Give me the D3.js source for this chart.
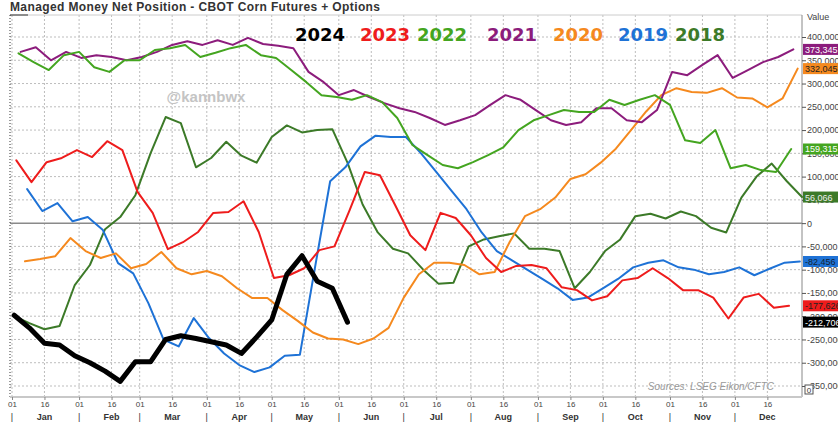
<!doctype html>
<html>
<head>
<meta charset="utf-8">
<script src="https://d3js.org/d3.v7.min.js"></script>
<style>
  body { margin: 0; background: #fff; }
  svg text { font-family: "Liberation Sans", Arial, sans-serif; }
</style>
</head>
<body>
<svg id="chart" width="838" height="425"></svg>
<script>
// managed money net position, thousands of contracts, one value per weekly report
const years = ["2024", "2023", "2022", "2021", "2020", "2019", "2018"];
const firstReport = {
  "2024": "2024-01-02", "2023": "2023-01-03", "2022": "2022-01-04", "2021": "2021-01-05",
  "2020": "2020-01-07", "2019": "2019-01-08", "2018": "2018-01-02"
};
const y2024 = [-198, -225, -258, -262, -285, -300, -318, -340, -298, -298, -250, -242, -248, -255, -262,
  -280, -245, -208, -110, -70, -125, -140, -212.706];
const y2023 = [135, 88, 131, 140, 157, 142, 176, 157, 67, 22, -56, -41, -19, 22, 24, 47, -19, -118, -112,
  -97, -58, -50, 28, 110, 103, 39, -26, -58, 22, 11, -26, -75, -105, -92, -90, -97, -138, -144, -166, -157,
  -123, -118, -97, -118, -144, -144, -160, -205, -160, -152, -182, -177.626];
const y2022 = [365, 346, 329, 361, 368, 335, 325, 350, 350, 372, 376, 383, 357, 366, 376, 383, 361, 355, 329,
  303, 275, 271, 265, 275, 260, 226, 168, 146, 125, 118, 131, 146, 163, 200, 221, 232, 243, 239, 239, 265,
  254, 265, 275, 254, 178, 172, 200, 118, 125, 114, 110, 159.315];
const y2021 = [368, 378, 350, 368, 355, 361, 357, 350, 357, 368, 383, 391, 383, 393, 383, 398, 385, 381, 376,
  325, 303, 275, 286, 271, 258, 247, 239, 226, 211, 221, 232, 254, 275, 265, 243, 221, 211, 217, 247, 247,
  221, 217, 243, 325, 318, 340, 361, 312, 329, 346, 357, 373.345];
const y2020 = [-82, -77, -71, -32, -60, -75, -65, -97, -88, -62, -97, -110, -103, -114, -140, -161, -161, -187,
  -210, -235, -248, -250, -260, -248, -225, -160, -110, -85, -85, -90, -110, -105, -40, 15, 30, 55, 95, 105,
  130, 160, 200, 240, 275, 290, 282, 280, 290, 270, 268, 249, 268, 332.045];
const y2019 = [73, 26, 43, 4, 13, -15, -86, -108, -172, -250, -265, -204, -247, -280, -305, -320, -310, -285,
  -283, -95, 90, 120, 165, 188, 185, 185, 150, 110, 70, 30, -20, -60, -80, -100, -120, -140, -165, -160,
  -140, -120, -95, -85, -80, -95, -100, -110, -105, -95, -112, -98, -85, -82.456];
const y2018 = [-200, -215, -228, -221, -133, -90, -13, 13, 60, 150, 228, 215, 120, 140, 175, 145, 130, 185,
  210, 195, 200, 202, 130, 40, -20, -55, -65, -100, -130, -128, -50, -35, -28, -22, -55, -55, -60, -140,
  -105, -60, -35, 15, 20, 10, 25, 15, -10, -20, 55, 100, 128, 90, 56.066];
const valuesByYear = { "2024": y2024, "2023": y2023, "2022": y2022, "2021": y2021, "2020": y2020, "2019": y2019, "2018": y2018 };
const colors = {
  "2024": "#000000", "2023": "#ee1c1c", "2022": "#44a520", "2021": "#8c1c7c",
  "2020": "#f5891e", "2019": "#1e72d6", "2018": "#3c7a28"
};
const boxText = { "2024": "#fff", "2023": "#222", "2022": "#fff", "2021": "#fff", "2020": "#222", "2019": "#123", "2018": "#eee" };
const yTicks = d3.range(-350, 401, 50);
const monthNames = ["Jan", "Feb", "Mar", "Apr", "May", "Jun", "Jul", "Aug", "Sep", "Oct", "Nov", "Dec"];

const svg = d3.select("#chart");
const plotL = 10, plotR = 802, plotT = 15, plotB = 397;
const fmt = v => d3.format(",")(Math.round(v * 1000)).replace("\u2212", "-");

// every year is laid over one common calendar
const x = d3.scaleTime().domain([new Date(2021, 0, 1), new Date(2022, 0, 1)]).range([12, 802]);
const y = d3.scaleLinear().domain([-350, 400]).range([386, 37]);
const parse = d3.timeParse("%Y-%m-%d");
function commonDate(start, i) {
  const d = parse(start);
  const doy = d3.timeDay.count(d3.timeYear(d), d) + 7 * i;
  return d3.timeDay.offset(new Date(2021, 0, 1), doy);
}

svg.append("text").attr("x", 10).attr("y", 11)
  .attr("font-size", 12).attr("font-weight", "bold").attr("fill", "#333")
  .attr("textLength", 370)
  .text("Managed Money Net Position - CBOT Corn Futures + Options");

const xTicks = [];
d3.range(12).forEach(function(m) { xTicks.push(new Date(2021, m, 1)); xTicks.push(new Date(2021, m, 16)); });

// grid
svg.append("g").selectAll("line").data(xTicks).enter().append("line")
  .attr("x1", d => x(d)).attr("x2", d => x(d)).attr("y1", plotT).attr("y2", plotB)
  .attr("stroke", "#bdbdbd").attr("stroke-dasharray", "2,2");
svg.append("g").selectAll("line").data(yTicks.filter(d => d != 0)).enter().append("line")
  .attr("x1", plotL).attr("x2", plotR).attr("y1", d => y(d)).attr("y2", d => y(d))
  .attr("stroke", "#bdbdbd").attr("stroke-dasharray", "2,2");
svg.append("line").attr("x1", plotL).attr("x2", plotR).attr("y1", y(0)).attr("y2", y(0))
  .attr("stroke", "#8a8a8a").attr("stroke-width", 1.5);

// frame
svg.append("line").attr("x1", plotL).attr("x2", plotR).attr("y1", plotT).attr("y2", plotT).attr("stroke", "#ccc");
svg.append("line").attr("x1", plotL).attr("x2", 28).attr("y1", plotT).attr("y2", plotT).attr("stroke", "#333");
svg.append("line").attr("x1", plotL).attr("x2", plotL).attr("y1", plotT).attr("y2", plotB)
  .attr("stroke", "#333").attr("stroke-dasharray", "1,2");
svg.append("line").attr("x1", plotR).attr("x2", plotR).attr("y1", plotT).attr("y2", plotB).attr("stroke", "#888");
svg.append("line").attr("x1", plotL).attr("x2", plotR).attr("y1", plotB).attr("y2", plotB)
  .attr("stroke", "#c8c8c8").attr("stroke-width", 2);

svg.append("text").attr("x", 206).attr("y", 102).attr("text-anchor", "middle")
  .attr("font-size", 15).attr("font-weight", "bold").attr("fill", "#c4c4c4").text("@kannbwx");

svg.append("text").attr("x", 774).attr("y", 390).attr("text-anchor", "end")
  .attr("font-size", 10).attr("font-style", "italic").attr("fill", "#999")
  .text("Sources: LSEG Eikon/CFTC");

// right axis
const ya = svg.append("g").attr("transform", "translate(" + plotR + ",0)")
  .call(d3.axisRight(y).tickValues(yTicks).tickSize(4).tickPadding(1).tickFormat(fmt));
ya.select(".domain").remove();
ya.selectAll("line").attr("stroke", "#555");
ya.selectAll("text").attr("font-size", 9).attr("fill", "#444").style("font-family", "Liberation Sans, Arial");
svg.append("text").attr("x", 807).attr("y", 20).attr("font-size", 9).attr("fill", "#444").text("Value");
svg.append("rect").attr("x", 805).attr("y", 385).attr("width", 8).attr("height", 9)
  .attr("fill", "#fff").attr("stroke", "#555");
svg.append("text").attr("x", 809).attr("y", 393).attr("text-anchor", "middle").attr("font-size", 8).attr("fill", "#333").text("0");

// bottom axis
const xa = svg.append("g").attr("transform", "translate(0," + plotB + ")")
  .call(d3.axisBottom(x).tickValues(xTicks).tickSize(3).tickPadding(1).tickFormat(d3.timeFormat("%d")));
xa.select(".domain").remove();
xa.selectAll("line").attr("stroke", "#888");
xa.selectAll("text").attr("font-size", 8).attr("fill", "#444").style("font-family", "Liberation Sans, Arial");
svg.append("g").selectAll("text").data(d3.range(12)).enter().append("text")
  .attr("x", m => x(new Date(2021, m, 16))).attr("y", 420).attr("text-anchor", "middle")
  .attr("font-size", 9).attr("font-weight", "bold").attr("fill", "#333").text(m => monthNames[m]);
svg.append("g").selectAll("text").data(d3.range(12)).enter().append("text")
  .attr("x", m => x(new Date(2021, m, 1))).attr("y", 420).attr("text-anchor", "middle")
  .attr("font-size", 9).attr("fill", "#333").text("|");

// series
const line = d3.line().x(d => x(d.date)).y(d => y(d.value));
const drawOrder = ["2018", "2019", "2020", "2021", "2022", "2023", "2024"];
drawOrder.forEach(function(yr) {
  const pts = valuesByYear[yr].map((v, i) => ({ date: commonDate(firstReport[yr], i), value: v }));
  svg.append("path").datum(pts).attr("d", line).attr("fill", "none")
    .attr("stroke", colors[yr]).attr("stroke-width", yr == "2024" ? 5 : 2)
    .attr("stroke-linejoin", "round").attr("stroke-linecap", "round");
});

// last value boxes
years.forEach(function(yr) {
  const vals = valuesByYear[yr];
  const last = vals[vals.length - 1];
  const g = svg.append("g").attr("transform", "translate(" + (plotR + 1) + "," + y(last) + ")");
  g.append("rect").attr("x", 0).attr("y", -5.5).attr("width", 40).attr("height", 11).attr("fill", colors[yr]);
  g.append("text").attr("x", 2).attr("y", 3.5).attr("font-size", 9).attr("fill", boxText[yr]).text(fmt(last));
});

// legend
const legendX = [295, 360, 417, 487, 553, 618, 675];
years.forEach(function(yr, i) {
  svg.append("text").attr("x", legendX[i]).attr("y", 41)
    .attr("font-size", 18).attr("font-weight", "bold").style("font-family", "DejaVu Sans")
    .attr("fill", colors[yr]).text(yr);
});
</script>
</body>
</html>
